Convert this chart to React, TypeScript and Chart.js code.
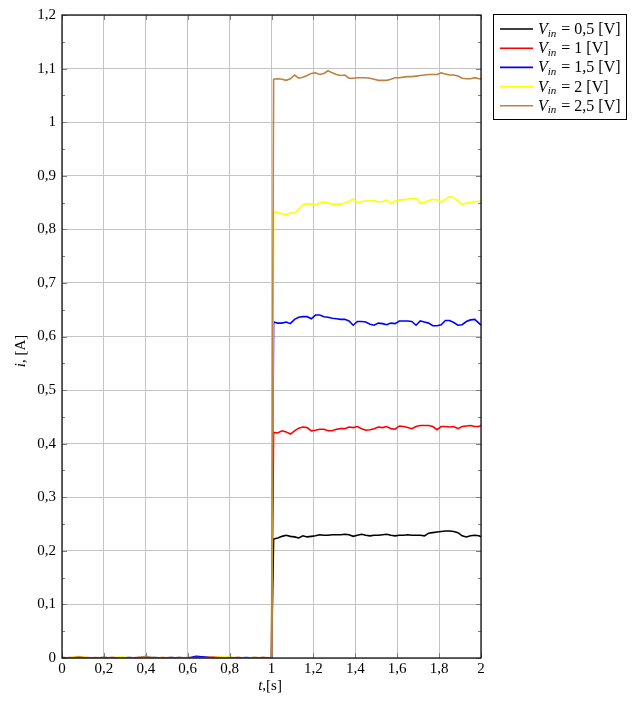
import React, { useEffect, useRef } from "react";
import { Chart, registerables } from "chart.js";
Chart.register(...registerables);

// time samples [s]
const times = [
  0, 0.04, 0.08, 0.12, 0.16, 0.2, 0.24, 0.28, 0.32, 0.36, 0.4, 0.44, 0.48, 0.52, 0.56, 0.6, 0.64, 0.68, 0.72, 0.76, 0.8, 0.84, 0.88, 0.92, 0.96, 1.0,
  1.01, 1.03, 1.05, 1.07, 1.09, 1.11, 1.13, 1.15, 1.17, 1.19, 1.21, 1.23, 1.25, 1.27, 1.29, 1.31, 1.33, 1.35, 1.37, 1.39,
  1.41, 1.43, 1.45, 1.47, 1.49, 1.51, 1.53, 1.55, 1.57, 1.59, 1.61, 1.63, 1.65, 1.67, 1.69, 1.71, 1.73, 1.75, 1.77, 1.79,
  1.81, 1.83, 1.85, 1.87, 1.89, 1.91, 1.93, 1.95, 1.97, 1.99, 2.0,
];

// current [A] for each input voltage
const i05 = [
  0.001, 0, 0.001, 0, 0, 0.001, 0, 0, 0.001, 0, 0, 0.001, 0, 0, 0.001, 0, 0, 0.001, 0, 0, 0.001, 0, 0, 0.001, 0, 0,
  0.222, 0.224, 0.227, 0.229, 0.227, 0.226, 0.224, 0.228, 0.226, 0.227, 0.228, 0.230, 0.229, 0.229, 0.230, 0.230, 0.230, 0.231, 0.230, 0.227,
  0.229, 0.231, 0.229, 0.228, 0.229, 0.229, 0.230, 0.231, 0.229, 0.228, 0.229, 0.229, 0.230, 0.229, 0.229, 0.229, 0.228, 0.233, 0.234, 0.235,
  0.236, 0.237, 0.237, 0.236, 0.234, 0.228, 0.226, 0.228, 0.229, 0.228, 0.226,
];
const i10 = [
  0, 0.001, 0, 0.001, 0, 0, 0.001, 0, 0, 0.001, 0, 0, 0.001, 0, 0, 0.001, 0, 0.001, 0.002, 0.001, 0, 0.001, 0, 0, 0.001, 0,
  0.421, 0.420, 0.424, 0.422, 0.418, 0.424, 0.429, 0.431, 0.430, 0.424, 0.425, 0.427, 0.427, 0.424, 0.424, 0.427, 0.428, 0.428, 0.431, 0.430,
  0.432, 0.428, 0.425, 0.426, 0.428, 0.431, 0.430, 0.432, 0.428, 0.427, 0.433, 0.432, 0.430, 0.428, 0.432, 0.434, 0.434, 0.434, 0.432, 0.426,
  0.432, 0.432, 0.431, 0.432, 0.428, 0.432, 0.433, 0.434, 0.432, 0.432, 0.434,
];
const i15 = [
  0, 0, 0.001, 0, 0, 0.001, 0, 0.001, 0, 0, 0.001, 0, 0, 0.001, 0, 0, 0.003, 0.002, 0, 0, 0.001, 0, 0.001, 0, 0, 0,
  0.627, 0.625, 0.625, 0.627, 0.624, 0.632, 0.636, 0.637, 0.637, 0.633, 0.640, 0.640, 0.637, 0.636, 0.634, 0.633, 0.632, 0.632, 0.629, 0.621,
  0.628, 0.628, 0.627, 0.623, 0.621, 0.625, 0.624, 0.622, 0.625, 0.624, 0.629, 0.629, 0.629, 0.628, 0.621, 0.629, 0.627, 0.625, 0.620, 0.620,
  0.622, 0.630, 0.630, 0.626, 0.621, 0.622, 0.628, 0.631, 0.632, 0.625, 0.621,
];
const i20 = [
  0, 0.001, 0.003, 0.001, 0, 0.001, 0, 0.002, 0, 0, 0.001, 0, 0.001, 0, 0, 0.001, 0, 0, 0.001, 0.002, 0.002, 0, 0, 0.001, 0, 0,
  0.833, 0.831, 0.829, 0.827, 0.831, 0.830, 0.838, 0.846, 0.848, 0.847, 0.845, 0.850, 0.851, 0.849, 0.847, 0.847, 0.847, 0.849, 0.852, 0.857,
  0.849, 0.852, 0.853, 0.853, 0.854, 0.851, 0.852, 0.855, 0.848, 0.853, 0.855, 0.855, 0.857, 0.857, 0.858, 0.849, 0.850, 0.854, 0.856, 0.855,
  0.851, 0.856, 0.861, 0.859, 0.853, 0.846, 0.849, 0.850, 0.852, 0.852, 0.854,
];
const i25 = [
  0.001, 0, 0.002, 0, 0.001, 0, 0.001, 0, 0, 0.001, 0.003, 0, 0, 0.001, 0, 0, 0.001, 0, 0.001, 0, 0, 0.001, 0, 0, 0.001, 0,
  1.080, 1.081, 1.080, 1.078, 1.081, 1.088, 1.082, 1.084, 1.087, 1.091, 1.092, 1.089, 1.091, 1.096, 1.092, 1.089, 1.087, 1.088, 1.082, 1.082,
  1.083, 1.083, 1.083, 1.082, 1.080, 1.078, 1.078, 1.078, 1.080, 1.083, 1.083, 1.084, 1.085, 1.085, 1.086, 1.087, 1.088, 1.089, 1.089, 1.089,
  1.092, 1.090, 1.088, 1.088, 1.086, 1.082, 1.081, 1.081, 1.083, 1.081, 1.081,
];

const seriesValues = [i05, i10, i15, i20, i25];
const seriesVoltages = ["0,5", "1", "1,5", "2", "2,5"];
const seriesColors = ["#000000", "#ff0000", "#0000ff", "#ffff00", "#bf8040"];

const xTickValues = [0, 0.2, 0.4, 0.6, 0.8, 1, 1.2, 1.4, 1.6, 1.8, 2];
const yTickValues = [0, 0.1, 0.2, 0.3, 0.4, 0.5, 0.6, 0.7, 0.8, 0.9, 1, 1.1, 1.2];
const yMinorTickValues = [0.05, 0.15, 0.25, 0.35, 0.45, 0.55, 0.65, 0.75, 0.85, 0.95, 1.05, 1.15];

const FONT = "'Liberation Serif', 'DejaVu Serif', serif";
const fmt = (v: number) => String(Math.round(v * 10) / 10).replace(".", ",");

const decorPlugin = {
  id: "decor",
  afterDraw(chart: any) {
    const ctx = chart.ctx as CanvasRenderingContext2D;
    const a = chart.chartArea;
    const xs = chart.scales.x;
    const ys = chart.scales.y;
    ctx.save();
    // tick marks (inside)
    ctx.strokeStyle = "#7f7f7f";
    ctx.lineWidth = 1;
    ctx.beginPath();
    yTickValues.forEach((v) => {
      const y = Math.round(ys.getPixelForValue(v)) + 0.5;
      ctx.moveTo(a.left, y); ctx.lineTo(a.left + 5, y);
      ctx.moveTo(a.right, y); ctx.lineTo(a.right - 5, y);
    });
    yMinorTickValues.forEach((v) => {
      const y = Math.round(ys.getPixelForValue(v)) + 0.5;
      ctx.moveTo(a.left, y); ctx.lineTo(a.left + 3, y);
      ctx.moveTo(a.right, y); ctx.lineTo(a.right - 3, y);
    });
    xTickValues.forEach((v) => {
      const x = Math.round(xs.getPixelForValue(v)) + 0.5;
      ctx.moveTo(x, a.bottom); ctx.lineTo(x, a.bottom - 5);
      ctx.moveTo(x, a.top); ctx.lineTo(x, a.top + 5);
    });
    ctx.stroke();
    // frame
    ctx.strokeStyle = "#000";
    ctx.lineWidth = 1.2;
    ctx.strokeRect(a.left, a.top, a.right - a.left, a.bottom - a.top);

    // axis titles
    ctx.fillStyle = "#000";
    ctx.textBaseline = "alphabetic";
    const itF = `italic 15px ${FONT}`;
    const rgF = `15px ${FONT}`;
    // x title: t,[s]
    ctx.font = itF;
    const wt = ctx.measureText("t").width;
    ctx.font = rgF;
    const wr = ctx.measureText(",[s]").width;
    let sx = 270 - (wt + wr) / 2;
    ctx.textAlign = "left";
    ctx.font = itF; ctx.fillText("t", sx, 690);
    ctx.font = rgF; ctx.fillText(",[s]", sx + wt, 690);
    // y title: i, [A]
    ctx.save();
    ctx.translate(25, 351);
    ctx.rotate(-Math.PI / 2);
    ctx.font = itF;
    const wi = ctx.measureText("i").width;
    ctx.font = rgF;
    const wa = ctx.measureText(", [A]").width;
    sx = -(wi + wa) / 2;
    ctx.font = itF; ctx.fillText("i", sx, 0);
    ctx.font = rgF; ctx.fillText(", [A]", sx + wi, 0);
    ctx.restore();

    // legend
    const lx = 493.5, ly = 14.5, lw = 133, lh = 105;
    ctx.fillStyle = "#fff";
    ctx.fillRect(lx, ly, lw, lh);
    ctx.strokeStyle = "#000";
    ctx.lineWidth = 1;
    ctx.strokeRect(lx, ly, lw, lh);
    const lgIt = `italic 16px ${FONT}`;
    const lgRg = `16px ${FONT}`;
    seriesVoltages.forEach((v, i) => {
      const y = 29 + i * 19.2;
      ctx.strokeStyle = seriesColors[i];
      ctx.lineWidth = 1.6;
      ctx.beginPath();
      ctx.moveTo(500, y); ctx.lineTo(533, y);
      ctx.stroke();
      ctx.fillStyle = "#000";
      let tx = 538;
      const base = y + 5;
      ctx.font = lgIt; ctx.fillText("V", tx, base); tx += ctx.measureText("V").width;
      ctx.font = `italic 11px ${FONT}`; ctx.fillText("in", tx, base + 2.5); tx += ctx.measureText("in").width + 1;
      ctx.font = lgRg; ctx.fillText(` = ${v} [V]`, tx, base);
    });
    ctx.restore();
  },
};

export default function App() {
  const ref = useRef<HTMLCanvasElement | null>(null);
  useEffect(() => {
    if (!ref.current) return;
    const datasets = seriesValues.map((vals, i) => ({
      label: `Vin = ${seriesVoltages[i]} [V]`,
      data: vals.map((y, k) => ({ x: times[k], y })),
      borderColor: seriesColors[i],
      backgroundColor: seriesColors[i],
      borderWidth: 1.6,
      pointRadius: 0,
      tension: 0,
      fill: false,
      order: seriesValues.length - i,
    }));
    const chart = new Chart(ref.current, {
      type: "line",
      data: { datasets },
      plugins: [decorPlugin],
      options: {
        animation: false,
        responsive: false,
        devicePixelRatio: 1,
        layout: { padding: { top: 14, right: 153, left: 0, bottom: 0 } },
        plugins: { legend: { display: false }, tooltip: { enabled: false } },
        scales: {
          x: {
            type: "linear",
            min: 0,
            max: 2,
            afterBuildTicks: (s: any) => { s.ticks = xTickValues.map((value) => ({ value })); },
            afterFit: (s: any) => { s.height = 46; },
            grid: { color: "#c4c4c4", lineWidth: 1, drawTicks: false },
            border: { display: false },
            ticks: { color: "#000", padding: 2, font: { family: FONT, size: 15 }, callback: (v: any) => fmt(Number(v)), maxRotation: 0, autoSkip: false },
          },
          y: {
            type: "linear",
            min: 0,
            max: 1.2,
            afterBuildTicks: (s: any) => { s.ticks = yTickValues.map((value) => ({ value })); },
            afterFit: (s: any) => { s.width = 62; },
            grid: { color: "#c4c4c4", lineWidth: 1, drawTicks: false },
            border: { display: false },
            ticks: { color: "#000", padding: 6, font: { family: FONT, size: 15 }, callback: (v: any) => fmt(Number(v)), autoSkip: false },
          },
        },
      },
    });
    return () => chart.destroy();
  }, []);
  return (
    <div style={{ position: "absolute", left: 0, top: 0, width: 634, height: 704, background: "#fff" }}>
      <canvas ref={ref} width={634} height={704} style={{ display: "block" }} />
    </div>
  );
}
